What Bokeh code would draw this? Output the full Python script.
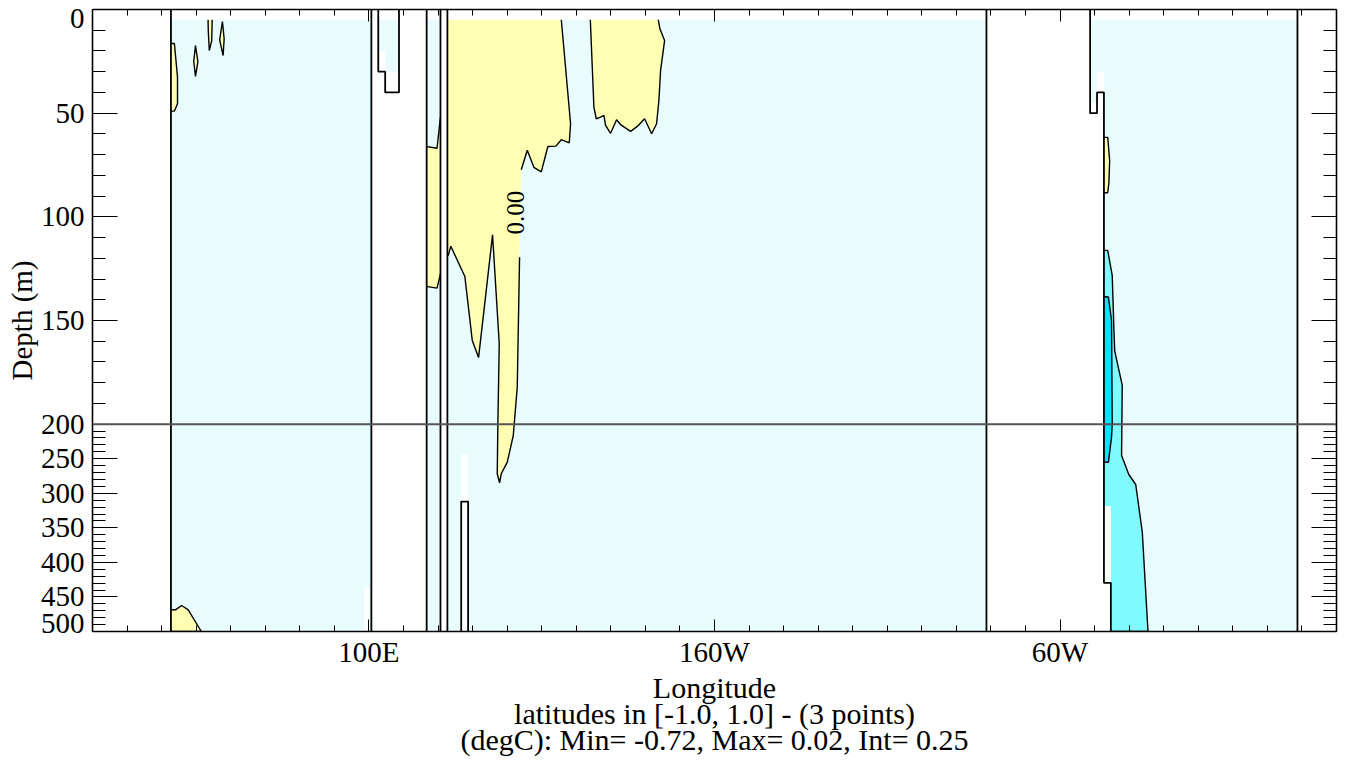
import math
from bokeh.plotting import figure
from bokeh.models import (Range1d, FixedTicker, CustomJSTickFormatter, LinearAxis, Span)
from bokeh.embed import file_html
from bokeh.resources import INLINE
from bokeh.core.properties import value

# ---------------- data ----------------
lon_major = [100, 200, 300]
lon_minor = list(range(20, 381, 10))
depth_major = [0, 50, 100, 150, 200, 250, 300, 350, 400, 450, 500]
depth_minor = [d for d in range(0, 501, 10) if d not in depth_major]

lon_extent = [20, 380]
depth_extent = [0, 500]
depth_break = 200

# contour regions: 0 < T < 0.25 (yellow)
yellow_lon = [
    [42.0, 43.7, 44.6, 44.6, 43.7, 42.0],
    [49.8, 50.5, 49.8, 49.3],
    [53.4, 54.7, 54.5, 53.8, 53.5],
    [57.6, 58.1, 57.8, 56.8],
    [42.0, 44.0, 45.8, 47.7, 51.5, 42.0],
    [116.0, 119.7, 120.7, 121.5, 121.5, 120.7, 119.7, 116.0],
    [143.59, 142.92, 141.77, 140.03, 138.29, 137.80, 137.13, 137.31, 137.71, 135.77,
     133.95, 131.72, 129.90, 127.76, 123.70, 122.95, 122.2, 122.2, 155.66, 155.66,
     158.35, 157.97, 155.66, 154.10, 151.78, 149.87, 147.73, 145.82, 144.08],
    [163.94, 164.63, 165.10, 165.79, 167.03, 167.99, 168.48, 169.93, 171.66, 172.82,
     175.72, 177.66, 179.77, 181.80, 183.24, 183.91, 184.40, 185.56, 184.20, 183.73, 183.73],
    [312.0, 313.8, 314.35, 314.15, 313.8, 312.0],
]
yellow_dep = [
    [16.4, 16.4, 32.6, 45.5, 49.0, 49.0],
    [17.4, 25.1, 32.3, 25.1],
    [0.0, 0.0, 15.0, 19.8, 10.0],
    [5.8, 14.1, 22.2, 14.6],
    [468.6, 468.6, 462.4, 468.6, 500.0, 500.0],
    [65.9, 66.9, 51.9, 51.9, 127.5, 127.5, 134.4, 133.4],
    [119.5, 182.2, 216.4, 255.0, 271.8, 284.8, 271.8, 199.8, 161.2, 108.7,
     135.5, 167.9, 159.6, 128.8, 114.2, 118.6, 118.6, 0.0, 0.0, 4.8,
     55.1, 64.3, 62.8, 65.9, 66.1, 78.3, 76.1, 67.9, 77.3],
    [0.0, 27.8, 47.1, 52.7, 51.9, 51.1, 55.9, 59.7, 53.2, 55.5,
     58.8, 56.4, 52.7, 59.9, 55.1, 43.9, 29.4, 15.0, 9.3, 4.8, 0.0],
    [61.7, 61.7, 72.8, 83.3, 88.4, 88.4],
]
# outline of the big warm tongue is open where the "0.00" label sits
yellow_closed = [True, True, True, True, True, True, False, True, True]

# -0.5 < T < -0.25
cyan_lon = [[312.0, 313.8, 315.1, 315.6, 315.8, 318.0, 317.8, 319.9, 321.9, 323.8, 325.45, 312.0]]
cyan_dep = [[116.2, 116.2, 128.3, 154.8, 164.5, 181.3, 245.3, 272.8, 287.3, 356.3, 500.0, 500.0]]
# -0.75 < T < -0.5
dcyan_lon = [[312.0, 314.0, 314.9, 315.1, 314.9, 314.0, 312.0]]
dcyan_dep = [[138.4, 138.7, 150.0, 199.8, 218.8, 255.0, 255.0]]

# cells without data (land / missing): lon0, lon1, depth0, depth1
mask_lon0 = [20, 20, 98.7, 100.7, 102.7, 104.7, 108.7, 120.7, 126.7, 278.7, 308.7, 310.7, 312.7, 368.7]
mask_lon1 = [42.7, 380, 100.1, 102.7, 104.7, 108.7, 116.7, 122.7, 128.7, 308.7, 310.7, 312.7, 314.7, 380]
mask_d0 = [0, 0, 437, 0, 20, 30, 0, 0, 244, 0, 45, 30, 318.7, 0]
mask_d1 = [500, 5, 500, 500, 500, 500, 500, 500, 500, 500, 500, 500, 500, 500]

# land outlines
land_lon = [
    [42.7, 42.7],
    [100.7, 100.7],
    [102.7, 102.7, 104.7, 104.7, 108.7, 108.7],
    [116.7, 116.7],
    [120.7, 120.7],
    [122.7, 122.7],
    [126.7, 126.7, 128.7, 128.7],
    [278.7, 278.7],
    [308.7, 308.7, 310.7, 310.7, 312.7, 312.7, 314.7, 314.7],
    [368.7, 368.7],
]
land_dep = [
    [0, 500],
    [0, 500],
    [0, 30, 30, 40, 40, 0],
    [0, 500],
    [0, 500],
    [0, 500],
    [500, 312, 312, 500],
    [0, 500],
    [0, 50, 50, 40, 40, 429.5, 429.5, 500],
    [0, 500],
]

contour_label = "0.00"
contour_label_lon = 142.4
contour_label_dep = 98.0

x_title = "Longitude"
subtitle1 = "latitudes in [-1.0, 1.0] - (3 points)"
subtitle2 = "(degC): Min= -0.72, Max= 0.02, Int= 0.25"
y_title = "Depth (m)"

# ---------------- styles ----------------
C_LIGHT = "#E8FCFD"
C_YELLOW = "#FFFFB4"
C_CYAN = "#80FAFF"
C_DCYAN = "#00E5FF"
FONT = "Liberation Serif"

W, H = 1340, 760
FRAME_L, FRAME_T, FRAME_R, FRAME_B = 92, 9, 1336, 631


def tz(d):
    """piecewise depth axis: 0-200 m stretched x3, 200-500 m linear"""
    return 3 * d if d <= depth_break else d + 2 * depth_break


def tzl(lst):
    return [tz(d) for d in lst]


p = figure(width=W, height=H,
           x_range=Range1d(lon_extent[0], lon_extent[1]),
           y_range=Range1d(tz(depth_extent[1]), tz(depth_extent[0])),
           output_backend="svg", toolbar_location=None,
           x_axis_location=None, y_axis_location=None,
           min_border_left=FRAME_L, min_border_right=W - FRAME_R,
           min_border_top=FRAME_T, min_border_bottom=H - FRAME_B)
p.grid.visible = False
p.outline_line_color = None
p.background_fill_color = "white"
p.border_fill_color = "white"

# ocean background (-0.25 < T < 0)
p.quad(left=[lon_extent[0]], right=[lon_extent[1]], bottom=[tz(depth_extent[1])],
       top=[tz(depth_extent[0])], fill_color=C_LIGHT, line_color=None)

# filled contours
for lons, deps, col in ((yellow_lon, yellow_dep, C_YELLOW), (cyan_lon, cyan_dep, C_CYAN),
                        (dcyan_lon, dcyan_dep, C_DCYAN)):
    p.patches(xs=lons, ys=[tzl(d) for d in deps], fill_color=col, line_color=None)

# contour lines
cl_x, cl_y = [], []
for lons, deps, closed in zip(yellow_lon, yellow_dep, yellow_closed):
    if closed:
        cl_x.append(lons + [lons[0]])
        cl_y.append(tzl(deps + [deps[0]]))
    else:
        cl_x.append(list(lons))
        cl_y.append(tzl(deps))
for lons, deps in zip(cyan_lon + dcyan_lon, cyan_dep + dcyan_dep):
    cl_x.append(lons + [lons[0]])
    cl_y.append(tzl(deps + [deps[0]]))
p.multi_line(xs=cl_x, ys=cl_y, line_color="black", line_width=1.4)

# masked cells
p.quad(left=mask_lon0, right=mask_lon1, top=tzl(mask_d0), bottom=tzl(mask_d1),
       fill_color="white", line_color=None)

# land outlines
p.multi_line(xs=land_lon, ys=[tzl(d) for d in land_dep], line_color="black", line_width=1.8)

# 200 m break line
p.add_layout(Span(location=tz(depth_break), dimension="width", line_color="#555555", line_width=2))

# contour label
p.text(x=[contour_label_lon], y=[tz(contour_label_dep)], text=[contour_label], angle=math.pi / 2,
       text_align="center", text_baseline="middle", text_font=value(FONT),
       text_font_size="25px", text_color="black")

# ---------------- axes ----------------
xt = FixedTicker(ticks=lon_major, minor_ticks=lon_minor)
yt = FixedTicker(ticks=tzl(depth_major), minor_ticks=tzl(depth_minor))
xfmt = CustomJSTickFormatter(code="return tick <= 180 ? tick + 'E' : (360 - tick) + 'W';")
blank = CustomJSTickFormatter(code="return '';")

# y labels: like IDL, the end labels are nudged inside the axis span
units_per_px = (tz(depth_extent[1]) - tz(depth_extent[0])) / (FRAME_B - FRAME_T)
ylab_pos = tzl(depth_major)
ylab_pos[0] += 9 * units_per_px
ylab_pos[-1] -= 8 * units_per_px
ylab_txt = [str(d) for d in depth_major]
yfmt = CustomJSTickFormatter(args=dict(pos=ylab_pos, lab=ylab_txt),
                             code="const i = pos.findIndex(v => Math.abs(v - tick) < 1e-6);"
                                  "return i >= 0 ? lab[i] : '';")


def style(ax, major_len, minor_len, labels=True):
    ax.axis_line_color = "black"
    ax.axis_line_width = 1.6
    ax.major_tick_in = major_len
    ax.major_tick_out = 0
    ax.minor_tick_in = minor_len
    ax.minor_tick_out = 0
    ax.major_tick_line_color = "black"
    ax.minor_tick_line_color = "black"
    ax.major_tick_line_width = 1
    ax.minor_tick_line_width = 1
    if labels:
        ax.major_label_text_font = FONT
        ax.major_label_text_font_size = "29px"
        ax.major_label_text_color = "black"
    else:
        ax.major_label_text_font_size = "0px"
        ax.major_label_standoff = 0


bx = LinearAxis(ticker=xt, formatter=xfmt,
                axis_label="\n".join([x_title, subtitle1, subtitle2]))
style(bx, 12, 6)
bx.major_label_standoff = 4
bx.axis_label_standoff = 0
bx.axis_label_text_font = FONT
bx.axis_label_text_font_size = "30px"
bx.axis_label_text_font_style = "normal"
bx.axis_label_text_color = "black"
bx.axis_label_text_align = "center"
bx.axis_label_text_line_height = 0.80
p.add_layout(bx, "below")

tx = LinearAxis(ticker=xt, formatter=blank)
style(tx, 12, 6, labels=False)
p.add_layout(tx, "above")

# inner left axis: ticks only
ly = LinearAxis(ticker=yt, formatter=blank)
style(ly, 25, 13, labels=False)
p.add_layout(ly, "left")

# outer left axis: labels only
ly2 = LinearAxis(ticker=FixedTicker(ticks=ylab_pos, minor_ticks=[]), formatter=yfmt,
                 axis_label=y_title)
ly2.axis_line_color = None
ly2.major_tick_line_color = None
ly2.minor_tick_line_color = None
ly2.major_tick_in = 0
ly2.major_tick_out = 0
ly2.minor_tick_in = 0
ly2.minor_tick_out = 0
ly2.major_label_standoff = 8
ly2.major_label_text_font = FONT
ly2.major_label_text_font_size = "29px"
ly2.major_label_text_color = "black"
ly2.axis_label_standoff = 0
ly2.axis_label_text_font = FONT
ly2.axis_label_text_font_size = "29px"
ly2.axis_label_text_font_style = "normal"
ly2.axis_label_text_color = "black"
p.add_layout(ly2, "left")

ry = LinearAxis(ticker=yt, formatter=blank)
style(ry, 25, 13, labels=False)
p.add_layout(ry, "right")

open("out.html", "w").write(file_html(p, INLINE))
